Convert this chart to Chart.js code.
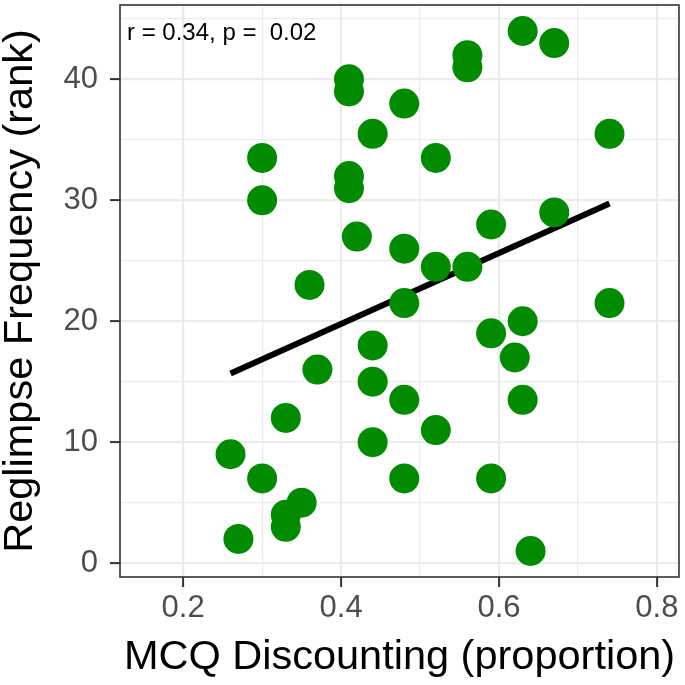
<!DOCTYPE html>
<html>
<head>
<meta charset="utf-8">
<script src="https://cdn.jsdelivr.net/npm/chart.js@4.4.1/dist/chart.umd.min.js"></script>
<style>
  html, body { margin: 0; padding: 0; background: #fff; }
  #wrap { width: 685px; height: 685px; }
</style>
</head>
<body>
<div id="wrap"><canvas id="chart" width="685" height="685"></canvas></div>
<script>
// MCQ discounting (proportion) vs reglimpse frequency (rank)
const mcq = [0.26, 0.27, 0.30, 0.30, 0.30, 0.33, 0.33, 0.33, 0.35, 0.36, 0.37,
             0.41, 0.41, 0.41, 0.41, 0.42, 0.44, 0.44, 0.44, 0.44,
             0.48, 0.48, 0.48, 0.48, 0.48, 0.52, 0.52, 0.52,
             0.56, 0.56, 0.56, 0.59, 0.59, 0.59, 0.62, 0.63, 0.63, 0.63, 0.64,
             0.67, 0.67, 0.74, 0.74];
const reglimpse = [9, 2, 33.5, 30, 7, 12, 4, 3, 5, 23, 16,
                   40, 39, 32, 31, 27, 35.5, 18, 15, 10,
                   38, 26, 21.5, 13.5, 7, 33.5, 24.5, 11,
                   42, 41, 24.5, 28, 19, 7, 17, 44, 20, 13.5, 1,
                   43, 29, 35.5, 21.5];

const xMajorTicks = [0.2, 0.4, 0.6, 0.8];
const xMinorTicks = [0.3, 0.5, 0.7];
const yMajorTicks = [0, 10, 20, 30, 40];
const yMinorTicks = [5, 15, 25, 35, 45];

const statLabel = 'r = 0.34, p =  0.02';

// least squares fit over the data range (like geom_smooth(method = "lm"))
function linearFit(xs, ys) {
    const n = xs.length;
    const mx = xs.reduce((a, b) => a + b, 0) / n;
    const my = ys.reduce((a, b) => a + b, 0) / n;
    let sxy = 0, sxx = 0;
    for (let i = 0; i < n; i++) {
        sxy += (xs[i] - mx) * (ys[i] - my);
        sxx += (xs[i] - mx) * (xs[i] - mx);
    }
    const slope = sxy / sxx;
    const lo = Math.min(...xs), hi = Math.max(...xs);
    return [lo, hi].map(x => ({ x: x, y: my + slope * (x - mx) }));
}

const FONT = "'Liberation Sans', Arial, Helvetica, sans-serif";
const isMajor = (list, v) => list.some(t => Math.abs(t - v) < 1e-9);

const points = mcq.map((x, i) => ({ x: x, y: reglimpse[i] }));

// panel border and the r/p annotation
const panelPlugin = {
    id: 'panel',
    afterDraw(chart) {
        const { ctx, chartArea: a } = chart;
        ctx.save();
        ctx.strokeStyle = '#333333';
        ctx.lineWidth = 1.6;
        ctx.strokeRect(a.left, a.top, a.right - a.left, a.bottom - a.top);
        ctx.fillStyle = '#000000';
        ctx.font = '24px ' + FONT;
        ctx.textBaseline = 'alphabetic';
        ctx.textAlign = 'left';
        ctx.fillText(statLabel, a.left + 7, a.top + 35);
        ctx.restore();
    }
};

function axisGrid(majors) {
    return {
        color: '#EBEBEB',
        lineWidth: ctx => (ctx.tick && isMajor(majors, ctx.tick.value)) ? 2.2 : 1.2,
        drawTicks: true,
        tickLength: 10,
        tickWidth: 2,
        tickColor: ctx => (ctx.tick && isMajor(majors, ctx.tick.value)) ? '#333333' : 'rgba(0,0,0,0)'
    };
}

new Chart(document.getElementById('chart').getContext('2d'), {
    type: 'scatter',
    data: {
        datasets: [{
            label: 'points',
            data: points,
            backgroundColor: '#008B00',
            borderWidth: 0,
            pointRadius: 15,
            pointHoverRadius: 15
        }, {
            type: 'line',
            label: 'fit',
            data: linearFit(mcq, reglimpse),
            borderColor: '#000000',
            borderWidth: 6,
            pointRadius: 0,
            fill: false
        }]
    },
    options: {
        responsive: false,
        animation: false,
        devicePixelRatio: 1,
        layout: { autoPadding: false, padding: { top: 5, right: 6, left: 0, bottom: 0 } },
        plugins: {
            legend: { display: false },
            tooltip: { enabled: false }
        },
        scales: {
            x: {
                type: 'linear',
                min: 0.12,
                max: 0.828,
                afterBuildTicks: s => { s.ticks = [...xMajorTicks, ...xMinorTicks].sort((a, b) => a - b).map(v => ({ value: v })); },
                afterFit: s => { s.height = 108; s.paddingLeft = 0; s.paddingRight = 0; },
                border: { display: false },
                grid: axisGrid(xMajorTicks),
                ticks: {
                    padding: 3,
                    color: '#4D4D4D',
                    font: { family: FONT, size: 31 },
                    maxRotation: 0,
                    autoSkip: false,
                    callback: v => isMajor(xMajorTicks, v) ? v.toFixed(1) : ''
                },
                title: {
                    display: true,
                    text: 'MCQ Discounting (proportion)',
                    color: '#000000',
                    font: { family: FONT, size: 41.5, lineHeight: 1 },
                    padding: { top: 0, bottom: 7 }
                }
            },
            y: {
                type: 'linear',
                min: -1.15,
                max: 46.15,
                afterBuildTicks: s => { s.ticks = [...yMajorTicks, ...yMinorTicks].sort((a, b) => a - b).map(v => ({ value: v })); },
                afterFit: s => { s.width = 120; s.paddingTop = 0; s.paddingBottom = 0; },
                border: { display: false },
                grid: axisGrid(yMajorTicks),
                ticks: {
                    padding: 12,
                    color: '#4D4D4D',
                    font: { family: FONT, size: 31 },
                    autoSkip: false,
                    callback: v => isMajor(yMajorTicks, v) ? String(v) : ''
                },
                title: {
                    display: true,
                    text: 'Reglimpse Frequency (rank)',
                    color: '#000000',
                    font: { family: FONT, size: 41.5, lineHeight: 1 },
                    padding: { top: 0, bottom: 0 }
                }
            }
        }
    },
    plugins: [panelPlugin]
});
</script>
</body>
</html>
